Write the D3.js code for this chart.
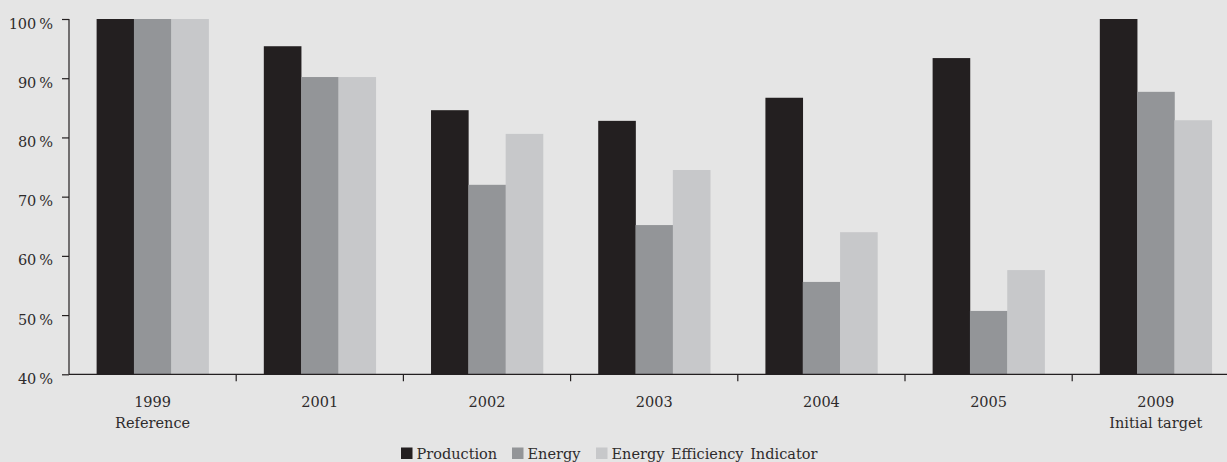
<!DOCTYPE html>
<html>
<head>
<meta charset="utf-8">
<script src="https://cdn.jsdelivr.net/npm/d3@7"></script>
<style>
  html, body { margin: 0; padding: 0; background: #e5e5e5; }
  svg { display: block; }
  text { font-family: "DejaVu Serif", "Liberation Serif", serif; fill: #2e2b2c; }
</style>
</head>
<body>
<svg id="chart" width="1227" height="462"></svg>
<script>
// Categories (two-line labels) and the three indexed series, 1999 = 100%
const categories = ["1999", "2001", "2002", "2003", "2004", "2005", "2009"];
const subLabels = ["Reference", "", "", "", "", "", "Initial target"];
const seriesNames = ["Production", "Energy", "Energy Efficiency Indicator"];
const production = [100, 95.4, 84.6, 82.8, 86.7, 93.4, 100];
const energy = [100, 90.2, 72.0, 65.2, 55.6, 50.7, 87.7];
const efficiency = [100, 90.2, 80.6, 74.5, 64.0, 57.6, 82.9];
const yTicks = [40, 50, 60, 70, 80, 90, 100];
const colors = ["#231f20", "#939598", "#c7c8ca"];

const series = [production, energy, efficiency];
const fontSize = "14.5px";

const svg = d3.select("#chart");
const plotLeft = 69, plotTop = 19, plotBottom = 374.3;
const step = 167.2;

const x0 = d3.scaleBand()
  .domain(categories)
  .range([plotLeft, plotLeft + step * categories.length])
  .padding(0);

const x1 = d3.scaleBand()
  .domain(seriesNames)
  .range([0, x0.bandwidth()])
  .paddingInner(0)
  .paddingOuter(0.74);

const y = d3.scaleLinear().domain([40, 100]).range([plotBottom, plotTop]);

// Bars
const groups = svg.append("g")
  .selectAll("g")
  .data(categories)
  .join("g")
  .attr("transform", d => `translate(${x0(d)},0)`);

groups.selectAll("rect")
  .data((d, i) => seriesNames.map((s, k) => ({ s, v: series[k][i], k })))
  .join("rect")
  .attr("x", d => x1(d.s))
  .attr("width", x1.bandwidth() + 0.3)
  .attr("y", d => y(d.v))
  .attr("height", d => y(40) - y(d.v))
  .attr("fill", d => colors[d.k]);

// Y axis
const yAxis = svg.append("g")
  .attr("transform", `translate(${plotLeft},0)`)
  .call(d3.axisLeft(y).tickValues(yTicks).tickSize(7).tickPadding(9)
    .tickFormat(d => d + "\u2009%"));
yAxis.select(".domain").attr("stroke", "#231f20").attr("stroke-width", 1.2)
  .attr("d", `M0,${plotTop}V${plotBottom}`);
yAxis.selectAll(".tick line").attr("stroke", "#231f20").attr("stroke-width", 1.2);
yAxis.selectAll(".tick text")
  .attr("dy", "0.62em")
  .style("font-size", fontSize)
  .style("font-family", '"DejaVu Serif", serif')
  .attr("fill", "#2e2b2c");

// X axis line and separator ticks between categories
svg.append("line")
  .attr("x1", plotLeft).attr("x2", 1227)
  .attr("y1", plotBottom).attr("y2", plotBottom)
  .attr("stroke", "#231f20").attr("stroke-width", 1.2);

svg.append("g")
  .selectAll("line")
  .data(categories.slice(1))
  .join("line")
  .attr("x1", d => x0(d)).attr("x2", d => x0(d))
  .attr("y1", plotBottom).attr("y2", plotBottom + 7)
  .attr("stroke", "#231f20").attr("stroke-width", 1.2);

// Category labels
const lbl = svg.append("g")
  .selectAll("text")
  .data(categories)
  .join("text")
  .attr("text-anchor", "middle")
  .attr("x", d => x0(d) + x0.bandwidth() / 2)
  .attr("y", 407)
  .style("font-size", fontSize);
lbl.append("tspan").text(d => d);
lbl.append("tspan")
  .attr("x", d => x0(d) + x0.bandwidth() / 2)
  .attr("dy", 21)
  .text((d, i) => subLabels[i]);

// Legend
const legendX = [401, 512, 596];
const legend = svg.append("g")
  .selectAll("g")
  .data(seriesNames)
  .join("g")
  .attr("transform", (d, i) => `translate(${legendX[i]},447.5)`);
legend.append("rect")
  .attr("width", 11.5).attr("height", 11.5)
  .attr("fill", (d, i) => colors[i]);
legend.append("text")
  .attr("x", 15.5).attr("y", 11)
  .style("font-size", fontSize)
  .style("word-spacing", "2px")
  .text(d => d);
</script>
</body>
</html>
